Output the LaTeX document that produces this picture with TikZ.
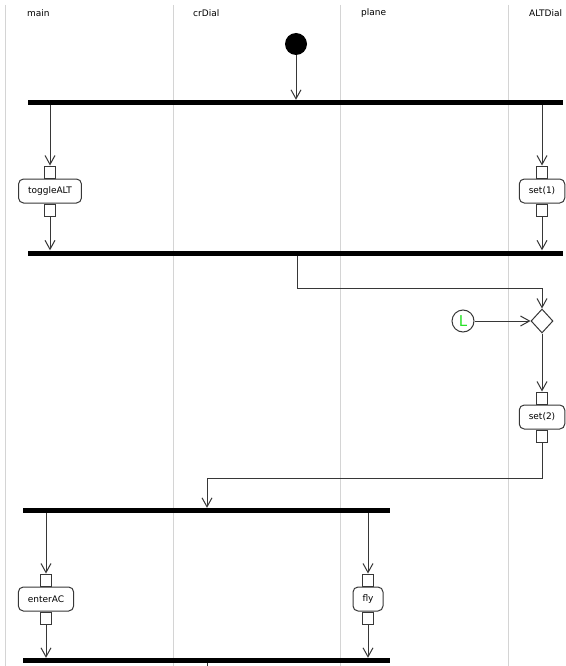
\documentclass[tikz,border=0pt]{standalone}
\usepackage{fontspec}
\setmainfont{DejaVu Sans}
\usepackage{tikz}
\usetikzlibrary{arrows.meta,shapes.geometric}
\definecolor{lanegray}{RGB}{212,212,212}
\definecolor{linegray}{RGB}{55,55,55}
\definecolor{lgreen}{RGB}{40,225,40}

\begin{document}
\begin{tikzpicture}[x=1pt, y=-1pt,
    lane/.style={lanegray, line width=1pt},
    flow/.style={linegray, line width=1pt, -{Straight Barb[length=9pt, width=10pt]}},
    plain/.style={linegray, line width=1pt},
    forkbar/.style={fill=black, draw=none, rectangle, minimum height=5pt, inner sep=0pt},
    action/.style={draw=linegray, fill=white, line width=1pt, rounded corners=5pt,
      minimum height=24pt, inner xsep=9.5pt, inner ysep=0pt, font=\fontsize{9}{10}\selectfont},
    pin/.style={draw=linegray, fill=white, line width=1pt, minimum width=11pt,
      minimum height=12pt, inner sep=0pt},
    lanelabel/.style={anchor=west, inner sep=0pt, font=\fontsize{9}{10}\selectfont}]

    \useasboundingbox (0,0) rectangle (565,666);

    % Draw the lanes
    \foreach \x in {5, 173, 340, 508} {
        \draw[lane] (\x,5) -- (\x,666);
    }
    \foreach \x/\t in {27/main, 193/crDial, 361/plane, 529/ALTDial} {
        \node[lanelabel] (lbl-\t) at (\x,13) {\t};
    }

    % Start and fork bars
    \node[circle, fill=black, minimum size=22pt, inner sep=0pt] (start) at (296,44) {};
    \node[forkbar, minimum width=535pt] (fork1) at (295.5,102.5) {};
    \node[forkbar, minimum width=535pt] (fork2) at (295.5,253) {};
    \node[forkbar, minimum width=367pt] (fork3) at (206.5,510.5) {};
    \node[forkbar, minimum width=367pt] (fork4) at (206.5,660.5) {};

    % Actions with their pins
    \foreach \n/\x/\y/\t in {tog/50/191/toggleALT, setA/542/191/set(1),
                             setB/542/417/set(2), enter/46/599/enterAC, fly/368/599/fly} {
        \node[action] (\n) at (\x,\y) {\t};
        \node[pin, anchor=south] (\n-in) at (\n.north) {};
        \node[pin, anchor=north] (\n-out) at (\n.south) {};
    }

    % Decision and connector
    \node[diamond, draw=linegray, fill=white, line width=1pt, aspect=0.92,
          minimum width=22pt, minimum height=24pt, inner sep=0pt] (dec) at (542,321) {};
    \node[circle, draw=linegray, line width=1pt, minimum size=22pt, inner sep=0pt,
          text=lgreen, font=\fontsize{15}{15}\selectfont] (conL) at (463,321) {L};

    % Flows
    \draw[flow] (start) -- (start |- fork1.north);
    \foreach \n in {tog, setA} {
        \draw[flow] (fork1.south -| \n-in.north) -- (\n-in.north);
        \draw[flow] (\n-out.south) -- (\n-out.south |- fork2.north);
    }

    \coordinate (j1) at (297,288);
    \draw[flow] (fork2.south -| j1) -- (j1) -| (dec.north);
    \draw[flow] (conL.east) -- (dec.west);
    \draw[flow] (dec.south) -- (setB-in.north);

    \coordinate (j2) at (207,478);
    \draw[flow] (setB-out.south) |- (j2) -- (j2 |- fork3.north);

    \foreach \n in {enter, fly} {
        \draw[flow] (fork3.south -| \n-in.north) -- (\n-in.north);
        \draw[flow] (\n-out.south) -- (\n-out.south |- fork4.north);
    }

    \coordinate (out) at (207,666);
    \draw[plain] (fork4.south -| out) -- (out);
\end{tikzpicture}
\end{document}
